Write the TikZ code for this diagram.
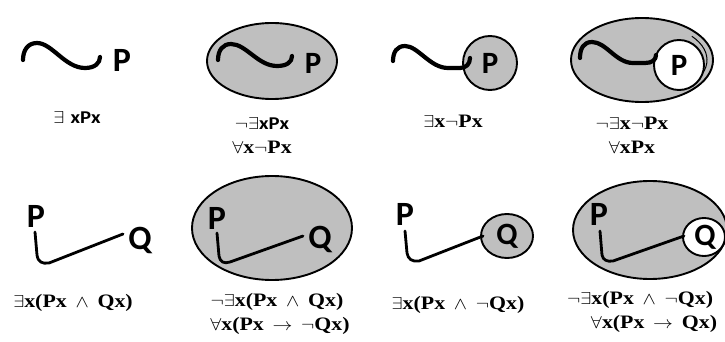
\documentclass[tikz,border=0pt]{standalone}
\usepackage{fontspec}
\newfontfamily\carfont{Carlito}
\newfontfamily\tnrfont{Liberation Serif}
\newcommand\wsp{\hspace{0.4em}}
\newcommand\wide[1]{\scalebox{1.15}[1]{#1}}
\begin{document}
\begin{tikzpicture}[x=1pt,y=-1pt,
  wave/.style={line width=4.2pt,line cap=round,line join=round},
  pq/.style={line width=2.8pt,line cap=round,line join=round},
  region/.style={draw,line width=1.9pt,fill=gray!50},
  hole/.style={draw,line width=1.9pt,fill=white},
  big/.style={font=\carfont\bfseries\fontsize{34}{34}\selectfont,inner sep=0pt},
  mid/.style={font=\carfont\bfseries\fontsize{31}{31}\selectfont,inner sep=0pt},
  lab/.style={font=\tnrfont\bfseries\fontsize{19}{19}\selectfont,inner sep=0pt},
  clab/.style={font=\carfont\bfseries\fontsize{18}{18}\selectfont,inner sep=0pt}]
\useasboundingbox (0,0) rectangle (725,342);
% ---------- row 1 ----------
% panel 1
\draw[wave] (23,60) .. controls (23,50) and (28,43) .. (37,43) .. controls (52,43) and (65,68) .. (85,68) .. controls (95,68) and (100,63) .. (100,57);
\node[big] (p1) at (122,60) {P};
\node[clab] (l1) at (77,118) {\wide{$\exists$\hspace{0.3em}xPx}};
% panel 2
\draw[region] (272,61) ellipse [x radius=65,y radius=38];
\draw[wave] (218,60) .. controls (218,50) and (223,44) .. (231,44) .. controls (246,44) and (258,66) .. (277,66) .. controls (287,66) and (292,62) .. (292,56);
\node[mid] (p2) at (313,63) {P};
\node[clab] (l2a) at (262,123) {\wide{$\neg\exists$xPx}};
\node[lab] (l2b) at (262,147) {\wide{$\forall$x$\neg$Px}};
% panel 3
\node[region,circle,minimum size=54pt,inner sep=0pt] (c3) at (490,63) {};
\draw[wave] (393,61) .. controls (393,52) and (397,46) .. (405,46) .. controls (418,46) and (430,68) .. (448,68) -- (460,68) .. controls (466,68) and (470,64) .. (470,58);
\node[mid] (p3) at (c3) {P};
\node[lab] (l3) at (453,121) {\wide{$\exists$x$\neg$Px}};
% panel 4
\draw[region] (642,60) ellipse [x radius=71,y radius=42];
\draw[line width=1pt] (642,60) ++(-40:65 and 37) arc[start angle=-40,end angle=50,x radius=65,y radius=37];
\node[hole,circle,minimum size=50pt,inner sep=0pt] (c4) at (679,65) {};
\draw[wave] (580,58) .. controls (580,48) and (584,42) .. (592,42) .. controls (606,42) and (616,63) .. (633,63) -- (645,63) .. controls (652,63) and (656,60) .. (656,55);
\node[mid] (p4) at (c4) {P};
\node[lab] (l4a) at (632,123) {\wide{$\neg\exists$x$\neg$Px}};
\node[lab] (l4b) at (632,147) {\wide{$\forall$xPx}};
% ---------- row 2 ----------
% panel 5
\node[big] (p5) at (36,216) {P};
\node[big] (q5) at (140,240) {Q};
\draw[pq] (35,232) -- (37,255) .. controls (38,262) and (42,264) .. (49,263) -- (123,234);
\node[lab] (l5) at (73,303) {\wide{$\exists$x(Px\wsp$\wedge$\wsp Qx)}};
% panel 6
\draw[region] (272,228) ellipse [x radius=80,y radius=52];
\node[big] (p6) at (217,218) {P};
\node[big] (q6) at (320,239) {Q};
\draw[pq] (217,233) -- (219,256) .. controls (220,262) and (224,264) .. (230,262) -- (303,236);
\node[lab] (l6a) at (277,302) {\wide{$\neg\exists$x(Px\wsp$\wedge$\wsp Qx)}};
\node[lab] (l6b) at (280,326) {\wide{$\forall$x(Px\wsp$\rightarrow$\wsp$\neg$Qx)}};
% panel 7
\draw[region] (507,236) ellipse [x radius=26,y radius=22];
\node[mid] (q7) at (507,236) {Q};
\node[big] (p7) at (405,214) {P};
\draw[pq] (405,231) -- (407,253) .. controls (408,259) and (412,262) .. (419,261) -- (483,236);
\node[lab] (l7) at (458,305) {\wide{$\exists$x(Px\wsp$\wedge$\wsp$\neg$Qx)}};
% panel 8
\draw[region] (650,230) ellipse [x radius=77,y radius=49];
\draw[hole] (704,237) ellipse [x radius=21,y radius=19];
\node[mid] (q8) at (705,237) {Q};
\node[big] (p8) at (599,214) {P};
\draw[pq] (600,231) -- (602,255) .. controls (603,260) and (607,262) .. (613,261) -- (684,236);
\node[lab,anchor=west] (l8a) at (567,300) {\wide{$\neg\exists$x(Px\wsp$\wedge$\wsp$\neg$Qx)}};
\node[lab] (l8b) at (654,324) {\wide{$\forall$x(Px\wsp$\rightarrow$\wsp Qx)}};
\end{tikzpicture}
\end{document}
